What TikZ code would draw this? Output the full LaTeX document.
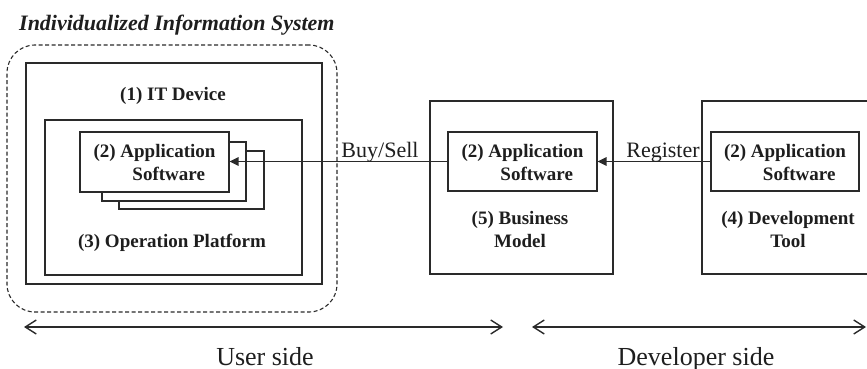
\documentclass[tikz,border=0pt]{standalone}
\usepackage{fontspec}
\setmainfont{Liberation Serif}
\usetikzlibrary{arrows.meta}
\definecolor{ln}{HTML}{2A2A2A}
\definecolor{tx}{HTML}{1E1E1E}
\tikzset{
  box/.style={draw=ln, line width=1.2pt, fill=white, inner sep=0pt},
  boldlbl/.style={text=tx, inner sep=0pt, font=\fontsize{19}{23}\selectfont\bfseries},
  edgelbl/.style={text=tx, inner sep=0pt, font=\fontsize{22}{26}\selectfont},
  sidelbl/.style={text=tx, inner sep=0pt, font=\fontsize{26}{30}\selectfont},
  flow/.style={draw=ln, line width=1.3pt, -{Triangle[length=9pt,width=8.5pt]}},
  span/.style={draw=ln, line width=1.4pt, {Straight Barb[length=11pt,width=14pt,line width=1.4pt]}-{Straight Barb[length=11pt,width=14pt,line width=1.4pt]}}
}
\begin{document}
\begin{tikzpicture}[x=1pt,y=-1pt]
\useasboundingbox (0,0) rectangle (867,369);
\clip (0,0) rectangle (867,369);
% title
\node[anchor=base west, text=tx, inner sep=0pt, font=\fontsize{22}{26}\selectfont\bfseries\itshape] (title) at (19,31) {Individualized Information System};
% dashed group
\node[draw=ln, line width=1.1pt, dash pattern=on 4pt off 2.5pt, rounded corners=28pt, minimum width=330pt, minimum height=267pt, inner sep=0pt] (grp) at (172,178.5) {};
% IT device
\node[box, minimum width=296pt, minimum height=221pt] (itdev) at (174,173.5) {};
\node[boldlbl, anchor=base] (itlbl) at (173,100) {(1) IT Device};
\node[box, minimum width=257pt, minimum height=155pt] (plat) at (173.5,197.5) {};
\node[boldlbl, anchor=base] (platlbl) at (172,247) {(3) Operation Platform};
% stacked apps
\node[box, minimum width=145pt, minimum height=58pt] (app3) at (191.5,180) {};
\node[box, minimum width=144pt, minimum height=59pt] (app2) at (174,171.5) {};
\node[box, minimum width=149pt, minimum height=60pt] (app1) at (154.5,162) {};
\node[boldlbl, align=left] (app1lbl) at (154.5,162.5) {(2) Application\\\hspace*{2.05em}Software};
% business model
\node[box, minimum width=183pt, minimum height=173pt] (biz) at (521.5,187.5) {};
\node[box, minimum width=149pt, minimum height=59pt] (bizapp) at (522.5,161.5) {};
\node[boldlbl, align=left] (bizapplbl) at (522.5,162.5) {(2) Application\\\hspace*{2.05em}Software};
\node[boldlbl, align=center] (bizlbl) at (520,229.5) {(5) Business\\Model};
% development tool
\node[box, minimum width=178pt, minimum height=173pt] (dev) at (791,187.5) {};
\node[box, minimum width=148pt, minimum height=59pt] (devapp) at (785,161.5) {};
\node[boldlbl, align=left] (devapplbl) at (785,162.5) {(2) Application\\\hspace*{2.05em}Software};
\node[boldlbl, align=center] (devlbl) at (788,229.5) {(4) Development\\Tool};
% connectors
\draw[flow] (bizapp.west) -- (app1.east |- bizapp.west);
\node[edgelbl, anchor=base] (buy) at (380,157) {Buy/Sell};
\draw[flow] (devapp.west) -- (bizapp.east);
\node[edgelbl, anchor=base] (reg) at (663,157) {Register};
% sides
\coordinate (u1) at (24,327);
\coordinate (u2) at (503,327);
\coordinate (d1) at (532,327);
\coordinate (d2) at (866,327);
\draw[span] (u1) -- (u2);
\draw[span] (d1) -- (d2);
\node[sidelbl, anchor=base] (user) at (265,365) {User side};
\node[sidelbl, anchor=base] (devside) at (696,365) {Developer side};
\end{tikzpicture}
\end{document}
